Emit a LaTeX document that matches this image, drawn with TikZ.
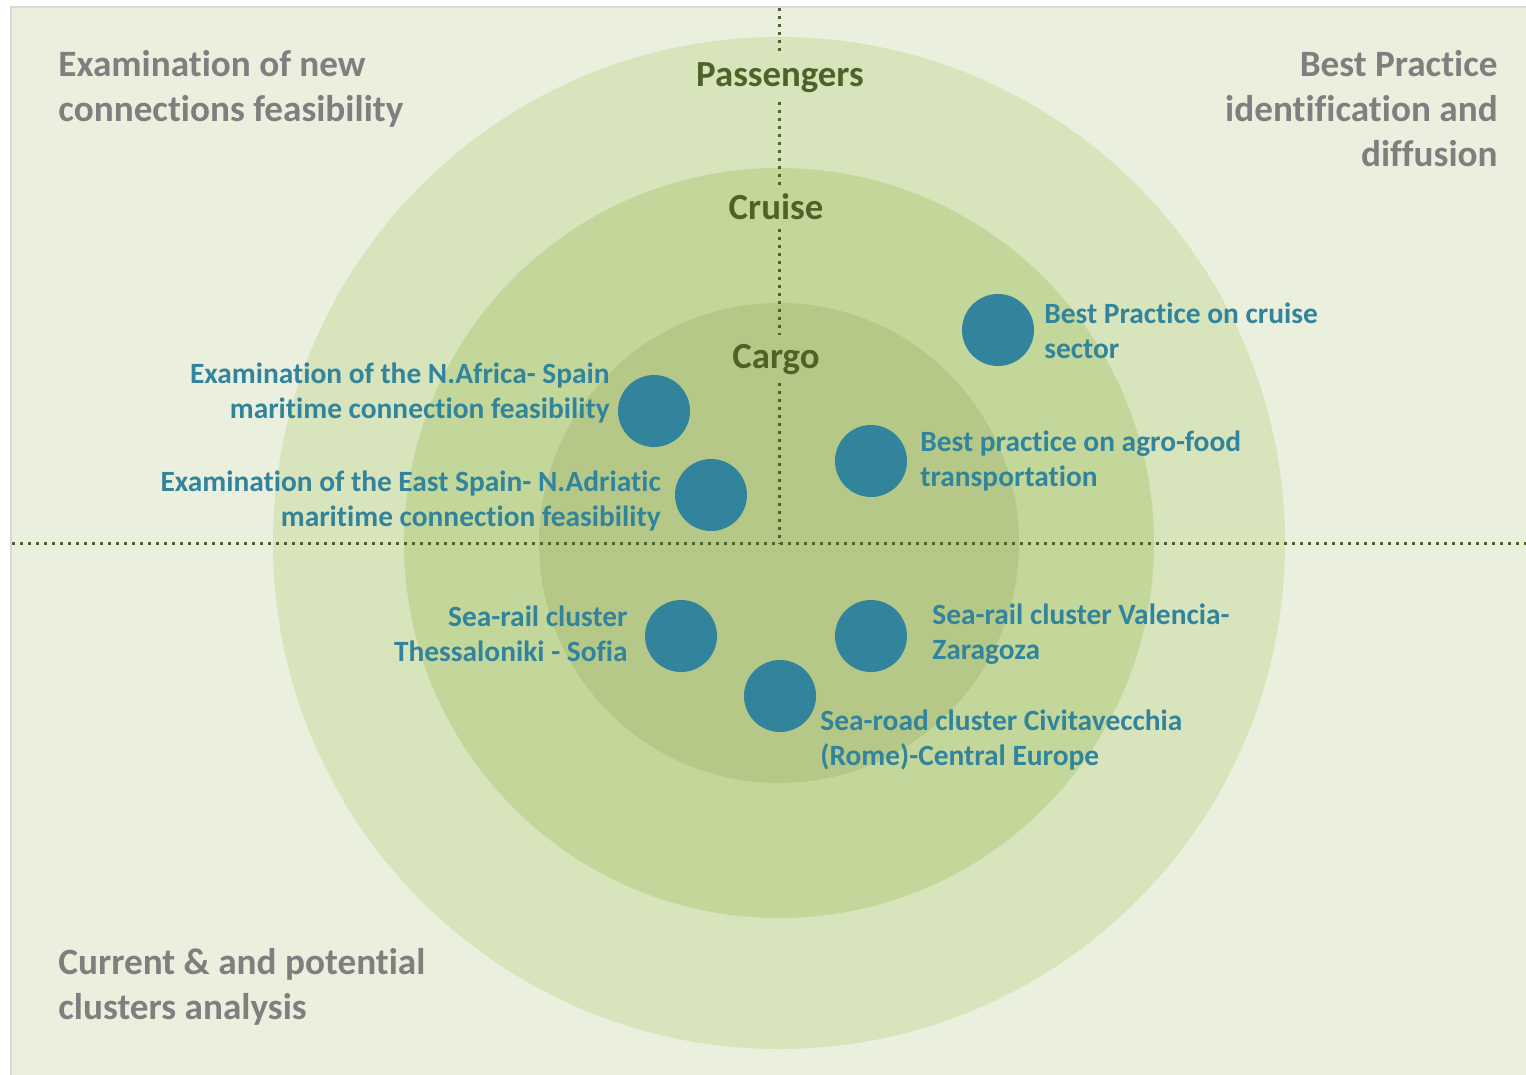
\documentclass[tikz,border=0pt]{standalone}
\usepackage{fontspec}
\setmainfont{Carlito}[Ligatures={NoCommon}]
\definecolor{bgpale}{HTML}{EBEFDE}
\definecolor{ringout}{HTML}{D8E4BC}
\definecolor{ringmid}{HTML}{C4D79B}
\definecolor{ringin}{HTML}{B6C887}
\definecolor{dotblue}{HTML}{31849B}
\definecolor{olivetxt}{HTML}{4F6228}
\definecolor{greytxt}{HTML}{7F7F7F}
\definecolor{framegrey}{HTML}{D9D9D9}
\begin{document}
\begin{tikzpicture}[x=0.5pt,y=-0.5pt,
  cornertxt/.style={text=greytxt, font=\fontsize{18.6}{22.5}\selectfont\bfseries, inner sep=0pt},
  ringlbl/.style={text=olivetxt, font=\fontsize{18.4}{22}\selectfont\bfseries, inner xsep=2pt, inner ysep=4pt},
  bluetxt/.style={text=dotblue, font=\fontsize{14.7}{17.5}\selectfont\bfseries, inner sep=0pt},
  dotline/.style={draw=olivetxt, line width=1.5pt, dash pattern=on 1.5pt off 2.5pt},
  bubble/.style={circle, fill=dotblue, minimum size=36pt, inner sep=0pt}
]
\useasboundingbox (0,0) rectangle (1526,1075);
\fill[white] (0,0) rectangle (1526,1075);
\begin{scope}
\clip (0,0) rectangle (1526,1075);
\filldraw[fill=bgpale, draw=framegrey, line width=1pt] (11,7) rectangle (1540,1090);
\end{scope}
% rings
\fill[ringout] (779,543) circle[radius=253pt];
\fill[ringmid] (779,543) circle[radius=187.5pt];
\fill[ringin]  (779,543) circle[radius=120pt];
% axis coordinates
\coordinate (top) at (779,8);
\coordinate (ctr) at (779,543);
\coordinate (lft) at (12,543);
\coordinate (rgt) at (1526,543);
% ring labels
\node[ringlbl, anchor=base] (pass) at (780,87) {Passengers};
\node[ringlbl, anchor=base] (cruise) at (776,220) {Cruise};
\node[ringlbl, anchor=base] (cargo) at (776,368) {Cargo};
% dotted axes
\draw[dotline] (lft) -- (rgt);
\draw[dotline] (top) -- (top |- pass.north);
\draw[dotline] (top |- pass.south) -- (top |- cruise.north);
\draw[dotline] (top |- cruise.south) -- (top |- cargo.north);
\draw[dotline] (top |- cargo.south) -- (ctr);
% corner texts (base anchor = baseline of last line)
\node[cornertxt, anchor=base west, align=left] (tl) at (58,122) {Examination of new\\connections feasibility};
\node[cornertxt, anchor=base east, align=right] (tr) at (1498,167) {Best Practice\\identification and\\diffusion};
\node[cornertxt, anchor=base west, align=left] (bl) at (58,1019) {Current \& and potential\\clusters analysis};
% bubbles
\node[bubble] (b1) at (654,411) {};
\node[bubble] (b2) at (711,495) {};
\node[bubble] (b3) at (998,330) {};
\node[bubble] (b4) at (871,461) {};
\node[bubble] (b5) at (681,636) {};
\node[bubble] (b6) at (871,636) {};
\node[bubble] (b7) at (780,696) {};
% bubble labels
\node[bluetxt, anchor=base east, align=right] (t1) at (610,418) {Examination of the N.Africa- Spain\\maritime connection feasibility};
\node[bluetxt, anchor=base east, align=right] (t2) at (661,526) {Examination of the East Spain- N.Adriatic\\maritime connection feasibility};
\node[bluetxt, anchor=base west, align=left] (t3) at (1044,358) {Best Practice on cruise\\sector};
\node[bluetxt, anchor=base west, align=left] (t4) at (920,486) {Best practice on agro-food\\transportation};
\node[bluetxt, anchor=base east, align=right] (t5) at (628,661) {Sea-rail cluster\\Thessaloniki - Sofia};
\node[bluetxt, anchor=base west, align=left] (t6) at (932,659) {Sea-rail cluster Valencia-\\Zaragoza};
\node[bluetxt, anchor=base west, align=left] (t7) at (820,765) {Sea-road cluster Civitavecchia\\(Rome)-Central Europe};
\end{tikzpicture}
\end{document}
